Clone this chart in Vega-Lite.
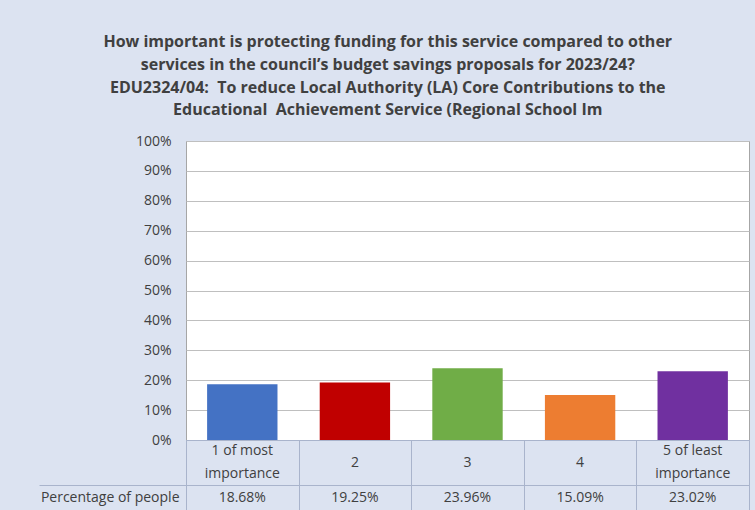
{
  "$schema": "https://vega.github.io/schema/vega-lite/v6.json",
  "background": "#dce3f1",
  "padding": {"left": 38, "top": 34, "right": 7, "bottom": 0},
  "bounds": "flush",
  "title": {
    "text": ["How important is protecting funding for this service compared to other", "services in the council’s budget savings proposals for 2023/24?", "EDU2324/04:\u00a0 To reduce Local Authority (LA) Core Contributions to the", "Educational\u00a0 Achievement Service (Regional School Im"],
    "font": "Open Sans",
    "fontSize": 16,
    "fontWeight": "bold",
    "lineHeight": 22.7,
    "color": "#404040",
    "anchor": "middle",
    "offset": 15,
    "dx": -6
  },
  "datasets": {
    "d": [
      {"cat": "1 of most importance", "value": 18.68, "label": "18.68%", "row": "Percentage of people"},
      {"cat": "2", "value": 19.25, "label": "19.25%", "row": "Percentage of people"},
      {"cat": "3", "value": 23.96, "label": "23.96%", "row": "Percentage of people"},
      {"cat": "4", "value": 15.09, "label": "15.09%", "row": "Percentage of people"},
      {"cat": "5 of least importance", "value": 23.02, "label": "23.02%", "row": "Percentage of people"}
    ],
    "heads": [
      {"cat": "1 of most importance", "line": "a", "text": "1 of most"},
      {"cat": "1 of most importance", "line": "b", "text": "importance"},
      {"cat": "2", "line": "m", "text": "2"},
      {"cat": "3", "line": "m", "text": "3"},
      {"cat": "4", "line": "m", "text": "4"},
      {"cat": "5 of least importance", "line": "a", "text": "5 of least"},
      {"cat": "5 of least importance", "line": "b", "text": "importance"}
    ]
  },
  "spacing": 0,
  "config": {
    "font": "Open Sans",
    "axis": {"labelFont": "Open Sans", "labelColor": "#404040", "labelFontSize": 14, "title": null}
  },
  "vconcat": [
    {
      "width": 563,
      "height": 299,
      "data": {"name": "d"},
      "view": {"fill": "white", "stroke": "#a6a6a6", "strokeWidth": 1},
      "mark": {"type": "bar", "width": {"band": 0.625}},
      "encoding": {
        "x": {
          "field": "cat", "type": "nominal", "sort": null,
          "scale": {"paddingInner": 0, "paddingOuter": 0},
          "axis": null
        },
        "y": {
          "field": "value", "type": "quantitative",
          "scale": {"domain": [0, 100]},
          "axis": {
            "values": [0, 10, 20, 30, 40, 50, 60, 70, 80, 90, 100],
            "labelExpr": "datum.value + '%'",
            "ticks": false,
            "domain": false,
            "labelPadding": 15,
            "gridColor": "#bfbfbf",
            "labelFontSize": 14
          }
        },
        "color": {
          "field": "cat", "type": "nominal", "sort": null, "legend": null,
          "scale": {"range": ["#4472c4", "#c00000", "#70ad47", "#ed7d31", "#7030a0"]}
        }
      }
    },
    {
      "width": 563,
      "height": 45,
      "data": {"name": "heads"},
      "view": {"stroke": "#a9b4cc", "strokeWidth": 1},
      "mark": {"type": "text", "fontSize": 14, "color": "#404040", "font": "Open Sans", "baseline": "middle"},
      "encoding": {
        "x": {
          "field": "cat", "type": "nominal",
          "sort": ["1 of most importance", "2", "3", "4", "5 of least importance"],
          "scale": {"paddingInner": 0, "paddingOuter": 0},
          "axis": {"labels": false, "ticks": false, "domain": false, "grid": true, "tickBand": "extent", "gridColor": "#a9b4cc"}
        },
        "y": {
          "field": "line", "type": "ordinal",
          "scale": {"type": "point", "domain": ["a", "m", "b"], "padding": 1.3},
          "axis": null
        },
        "text": {"field": "text"}
      }
    },
    {
      "width": 563,
      "height": 25,
      "data": {"name": "d"},
      "view": {"stroke": "#a9b4cc", "strokeWidth": 1},
      "mark": {"type": "text", "fontSize": 14, "color": "#404040", "font": "Open Sans"},
      "encoding": {
        "x": {
          "field": "cat", "type": "nominal", "sort": null,
          "scale": {"paddingInner": 0, "paddingOuter": 0},
          "axis": {"labels": false, "ticks": false, "domain": false, "grid": true, "tickBand": "extent", "gridColor": "#a9b4cc"}
        },
        "y": {
          "field": "row", "type": "nominal",
          "axis": {"tickBand": "extent", "tickSize": 147, "tickColor": "#a9b4cc", "labelPadding": -140, "domain": false}
        },
        "text": {"field": "label"}
      }
    }
  ]
}
